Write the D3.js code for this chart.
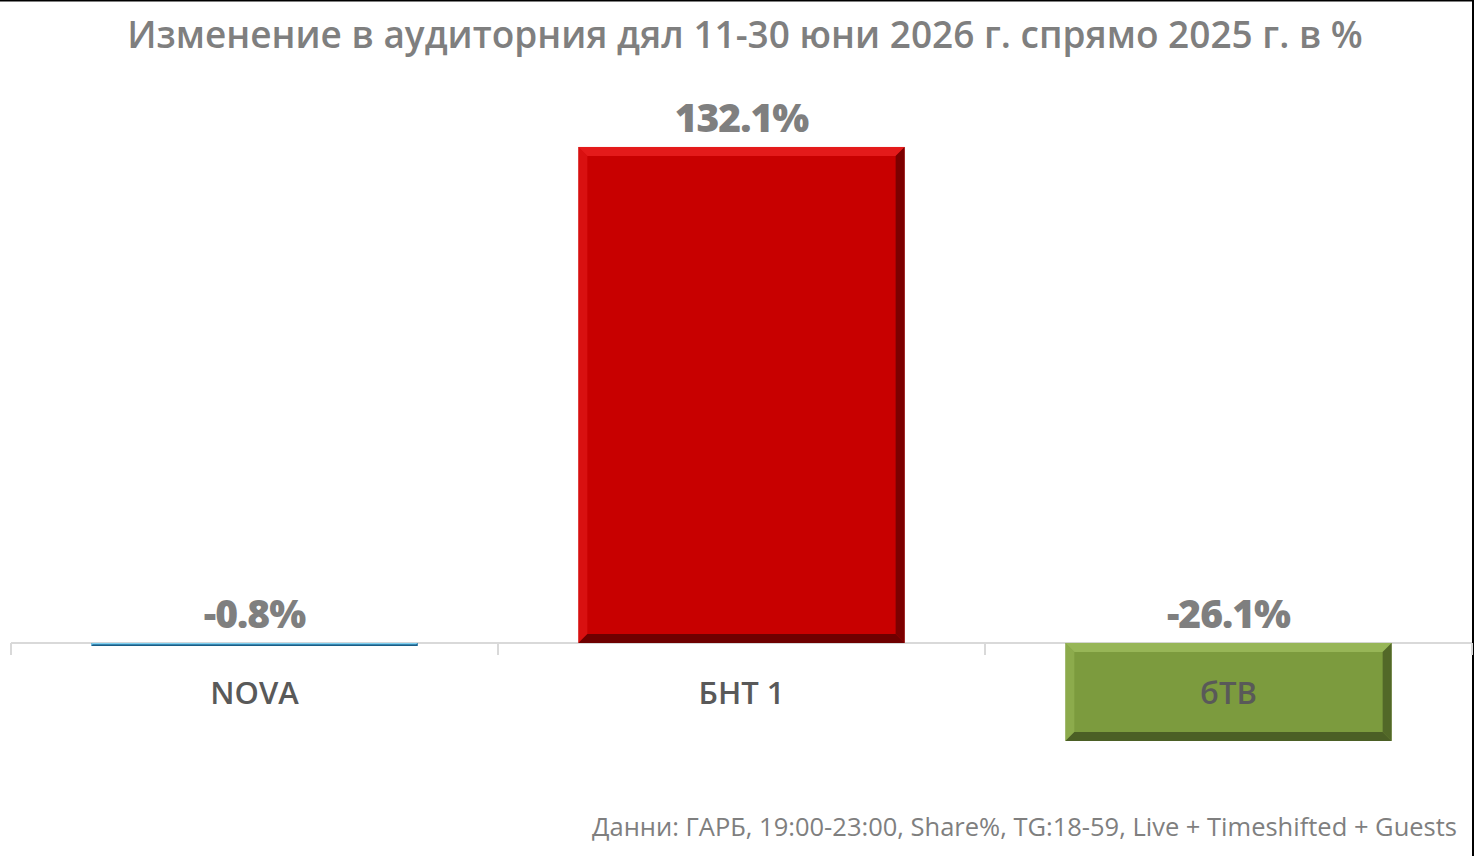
<!DOCTYPE html>
<html lang="bg">
    <head>
        <meta charset="utf-8">
        <title>Изменение в аудиторния дял</title>
        <script type="text/javascript" src="https://cdn.jsdelivr.net/npm/d3@7"></script>
        <style>
          html, body { margin: 0; padding: 0; background: #fff; }
          svg { display: block; font-family: "Open Sans", "Noto Sans", sans-serif; }
        </style>
    </head>
    <body>
        <script type="text/javascript">
            // data
            const channels = ["NOVA", "БНТ 1", "бТВ"]
            const changes = [-0.8, 132.1, -26.1]
            const valueLabels = ["-0.8%", "132.1%", "-26.1%"]
            const titleText = "Изменение в аудиторния дял 11-30 юни 2026 г. спрямо 2025 г. в %"
            const sourceText = "Данни: ГАРБ, 19:00-23:00, Share%, TG:18-59, Live + Timeshifted + Guests"

            // face / light edge / dark edge per bar
            const faces = ["#2E8BC0", "#C80000", "#7C9B3E"]
            const lights = ["#7FD0F0", "#E41A1A", "#97B657"]
            const darks = ["#1B5E86", "#6E0000", "#4B5F25"]

            const w = 1474
            const h = 856
            const bevel = 9

            const svg = d3.select("body")
                          .append("svg")
                          .attr("width", w)
                          .attr("height", h)

            const x = d3.scaleBand()
                        .domain(channels)
                        .range([11, 1472])
                        .paddingInner(0.33)
                        .paddingOuter(0.165)

            const y = d3.scaleLinear()
                        .domain([-30, 140])
                        .range([755.6, 117.3])

            // thin frame on top and right like the source image
            svg.append("line").attr("x1", 0).attr("x2", w).attr("y1", 0.5).attr("y2", 0.5)
               .attr("stroke", "#000").attr("stroke-width", 2)
            svg.append("line").attr("x1", w - 1).attr("x2", w - 1).attr("y1", 0).attr("y2", h)
               .attr("stroke", "#000").attr("stroke-width", 2)

            svg.append("text")
               .attr("x", 745)
               .attr("y", 48)
               .attr("text-anchor", "middle")
               .attr("fill", "#7f7f7f")
               .attr("font-size", 37)
               .attr("font-weight", 600)
               .text(titleText)

            // axis line with ticks on category boundaries
            const axisY = y(0)
            svg.append("line")
               .attr("x1", x.range()[0]).attr("x2", x.range()[1])
               .attr("y1", axisY).attr("y2", axisY)
               .attr("stroke", "#d9d9d9").attr("stroke-width", 2)
            svg.selectAll("line.tick")
               .data(d3.range(channels.length + 1))
               .enter()
               .append("line")
               .attr("class", "tick")
               .attr("x1", (d) => { return x.range()[0] + d * x.step() })
               .attr("x2", (d) => { return x.range()[0] + d * x.step() })
               .attr("y1", axisY)
               .attr("y2", axisY + 12)
               .attr("stroke", "#d9d9d9").attr("stroke-width", 2)

            const bars = channels.map((c, i) => {
                const x0 = x(c)
                const x1 = x0 + x.bandwidth()
                const top = Math.min(y(changes[i]), y(0))
                const bot = Math.max(y(changes[i]), y(0))
                return { i: i, x0: x0, x1: x1, top: top, bot: bot, b: Math.min(bevel, (bot - top) / 2) }
            })

            const g = svg.selectAll("g.bar")
                         .data(bars)
                         .enter()
                         .append("g")
                         .attr("class", "bar")

            g.append("rect")
             .attr("x", (d) => { return d.x0 })
             .attr("y", (d) => { return d.top })
             .attr("width", (d) => { return d.x1 - d.x0 })
             .attr("height", (d) => { return d.bot - d.top })
             .attr("fill", (d) => { return faces[d.i] })

            const poly = (pts) => { return pts.map((p) => { return p.join(",") }).join(" ") }
            // top edge
            g.append("polygon")
             .attr("points", (d) => { return poly([[d.x0, d.top], [d.x1, d.top], [d.x1 - d.b, d.top + d.b], [d.x0 + d.b, d.top + d.b]]) })
             .attr("fill", (d) => { return lights[d.i] })
            // left edge
            g.append("polygon")
             .attr("points", (d) => { return poly([[d.x0, d.top], [d.x0 + d.b, d.top + d.b], [d.x0 + d.b, d.bot - d.b], [d.x0, d.bot]]) })
             .attr("fill", (d) => { return lights[d.i] })
             .attr("opacity", 0.6)
            // right edge
            g.append("polygon")
             .attr("points", (d) => { return poly([[d.x1, d.top], [d.x1, d.bot], [d.x1 - d.b, d.bot - d.b], [d.x1 - d.b, d.top + d.b]]) })
             .attr("fill", (d) => { return darks[d.i] })
             .attr("opacity", 0.85)
            // bottom edge
            g.append("polygon")
             .attr("points", (d) => { return poly([[d.x0, d.bot], [d.x1, d.bot], [d.x1 - d.b, d.bot - d.b], [d.x0 + d.b, d.bot - d.b]]) })
             .attr("fill", (d) => { return darks[d.i] })

            // value labels above the bar (or above the axis for negatives)
            svg.selectAll("text.value")
               .data(changes)
               .enter()
               .append("text")
               .attr("class", "value")
               .attr("x", (d, i) => { return x(channels[i]) + x.bandwidth() / 2 })
               .attr("y", (d) => { return Math.min(y(d), y(0)) - 15 })
               .attr("text-anchor", "middle")
               .attr("fill", "#7f7f7f")
               .attr("font-size", 39)
               .attr("font-weight", 800)
               .attr("letter-spacing", -1)
               .text((d, i) => { return valueLabels[i] })

            svg.selectAll("text.cat")
               .data(channels)
               .enter()
               .append("text")
               .attr("class", "cat")
               .attr("x", (d) => { return x(d) + x.bandwidth() / 2 })
               .attr("y", 704)
               .attr("text-anchor", "middle")
               .attr("fill", "#595959")
               .attr("font-size", 31)
               .attr("font-weight", 600)
               .text((d) => { return d })

            svg.append("text")
               .attr("x", 1457)
               .attr("y", 836)
               .attr("text-anchor", "end")
               .attr("fill", "#7f7f7f")
               .attr("font-size", 25.5)
               .attr("font-weight", 500)
               .text(sourceText)
        </script>
    </body>
</html>
